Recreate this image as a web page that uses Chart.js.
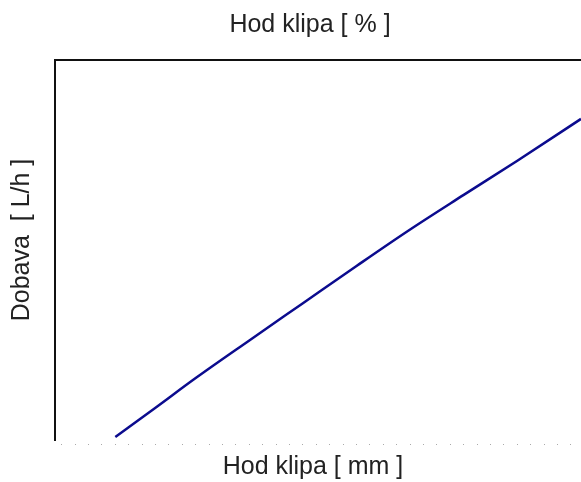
<!DOCTYPE html>
<html>
<head>
<meta charset="utf-8">
<script src="https://cdn.jsdelivr.net/npm/chart.js@4.4.1/dist/chart.umd.min.js"></script>
<style>
  html, body { margin: 0; padding: 0; background: #fff; }
  #wrap { width: 581px; height: 482px; }
</style>
</head>
<body>
<div id="wrap"><canvas id="c" width="581" height="482"></canvas></div>
<script>
// Stroke (mm-scale units) vs delivery (relative units)
const strokeValues = [4, 7, 10, 14, 18, 22, 26, 30, 34, 38.75];
const flowValues   = [0.8, 8.5, 16.3, 26.2, 36.0, 45.8, 55.4, 64.5, 73.5, 84.5];
const yTickValues  = [0, 20, 40, 60, 80, 100];
const bottomTickValues = Array.from({length: 39}, (_, i) => i);
const topTickValues = bottomTickValues.filter(v => v % 2 === 1);

const titleTop = 'Hod klipa [ % ]';
const titleBottom = 'Hod klipa [ mm ]';
const titleLeft = 'Dobava  [ L/h ]';

const points = strokeValues.map((x, i) => ({x, y: flowValues[i]}));
const fontSpec = '25px "Liberation Sans", Arial, sans-serif';
const textColor = '#222';

// Axis titles, drawn as canvas text at the reference positions
const axisTitles = {
  id: 'axisTitles',
  afterDraw(chart) {
    const ctx = chart.ctx;
    const a = chart.chartArea;
    ctx.save();
    ctx.font = fontSpec;
    ctx.fillStyle = textColor;
    ctx.textAlign = 'center';
    ctx.textBaseline = 'middle';
    ctx.fillText(titleTop, a.left + 255, a.top - 35);
    ctx.fillText(titleBottom, a.left + 258, a.bottom + 27);
    ctx.translate(a.left - 33, a.top + 180);
    ctx.rotate(-Math.PI / 2);
    ctx.fillText(titleLeft, 0, 0);
    ctx.restore();
  }
};

new Chart(document.getElementById('c'), {
  type: 'scatter',
  data: {
    datasets: [{
      data: points,
      showLine: true,
      borderColor: '#0b0b8e',
      borderWidth: 2.5,
      pointRadius: 0,
      cubicInterpolationMode: 'monotone'
    }]
  },
  plugins: [axisTitles],
  options: {
    responsive: false,
    animation: false,
    layout: {padding: 0},
    plugins: {legend: {display: false}, tooltip: {enabled: false}},
    scales: {
      x: {
        type: 'linear', position: 'bottom', min: -0.5, max: 38.75,
        afterBuildTicks: s => { s.ticks = bottomTickValues.map(v => ({value: v})); },
        afterFit: s => { s.height = 42; },
        ticks: {display: false},
        border: {display: false},
        grid: {drawOnChartArea: false, drawTicks: true, tickLength: 5, tickColor: '#aaa',
               tickBorderDash: [1.5, 4], tickBorderDashOffset: 1.5}
      },
      x2: {
        type: 'linear', position: 'top', min: -0.5, max: 38.75,
        afterBuildTicks: s => { s.ticks = topTickValues.map(v => ({value: v})); },
        afterFit: s => { s.height = 60; },
        ticks: {display: false},
        border: {display: true, color: '#111', width: 2},
        grid: {drawOnChartArea: false, drawTicks: true, tickLength: 6, tickColor: '#bbb',
               tickBorderDash: [1.5, 6], tickBorderDashOffset: 2.5}
      },
      y: {
        type: 'linear', position: 'left', min: 0, max: 100,
        afterBuildTicks: s => { s.ticks = yTickValues.map(v => ({value: v})); },
        afterFit: s => { s.width = 55; },
        ticks: {display: false},
        border: {display: true, color: '#111', width: 2},
        grid: {drawOnChartArea: false, drawTicks: true, tickLength: 5, tickColor: '#bbb',
               tickBorderDash: [1.5, 6], tickBorderDashOffset: 2.5}
      }
    }
  }
});
</script>
</body>
</html>
